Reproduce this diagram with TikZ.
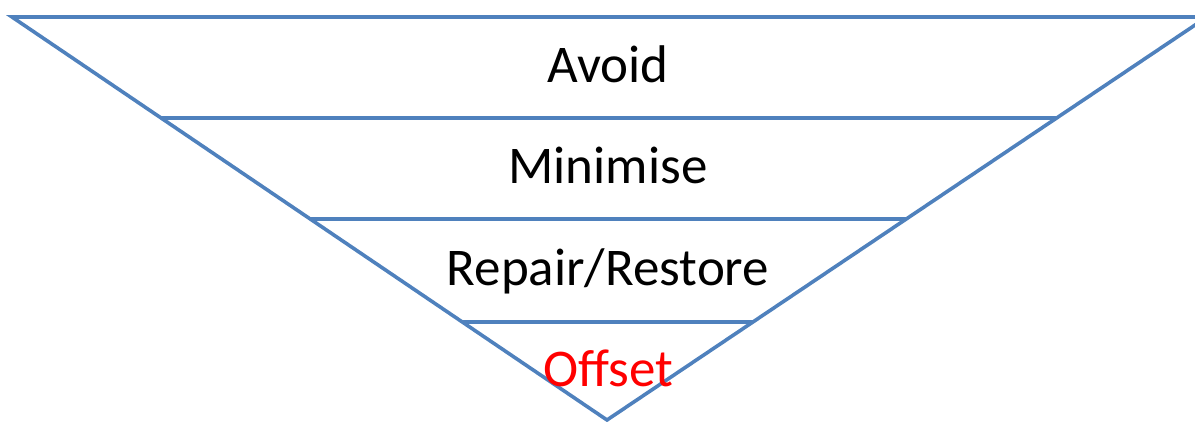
\documentclass[tikz,border=0pt]{standalone}
\usepackage{fontspec}
\setmainfont{Carlito}
\definecolor{officeblue}{RGB}{79,129,189}
\begin{document}
\begin{tikzpicture}[x=1pt,y=-1pt,
  band/.style={draw=officeblue,line width=3.6pt},
  label/.style={anchor=base,inner sep=0pt,font=\fontsize{53}{60}\selectfont}]
\useasboundingbox (0,0) rectangle (1195,421);
\clip (0,0) rectangle (1195,421);
\coordinate (tl) at (12,17);
\coordinate (tr) at (1207,17);
\coordinate (apex) at (607,420);
\coordinate (l1) at (161,118); \coordinate (r1) at (1057,118);
\coordinate (l2) at (310,219); \coordinate (r2) at (906.5,219);
\coordinate (l3) at (462,322); \coordinate (r3) at (753,322);
\draw[band,line join=miter] (tr) -- (tl) -- (apex) -- cycle;
\draw[band] (l1) -- (r1);
\draw[band] (l2) -- (r2);
\draw[band] (l3) -- (r3);
\node[label] (avoid) at (608,82) {Avoid};
\node[label] (minimise) at (608,183.5) {Minimise};
\node[label] (repair) at (608,285) {Repair/Restore};
\node[label,text=red] (offset) at (608,386) {Offset};
\end{tikzpicture}
\end{document}
